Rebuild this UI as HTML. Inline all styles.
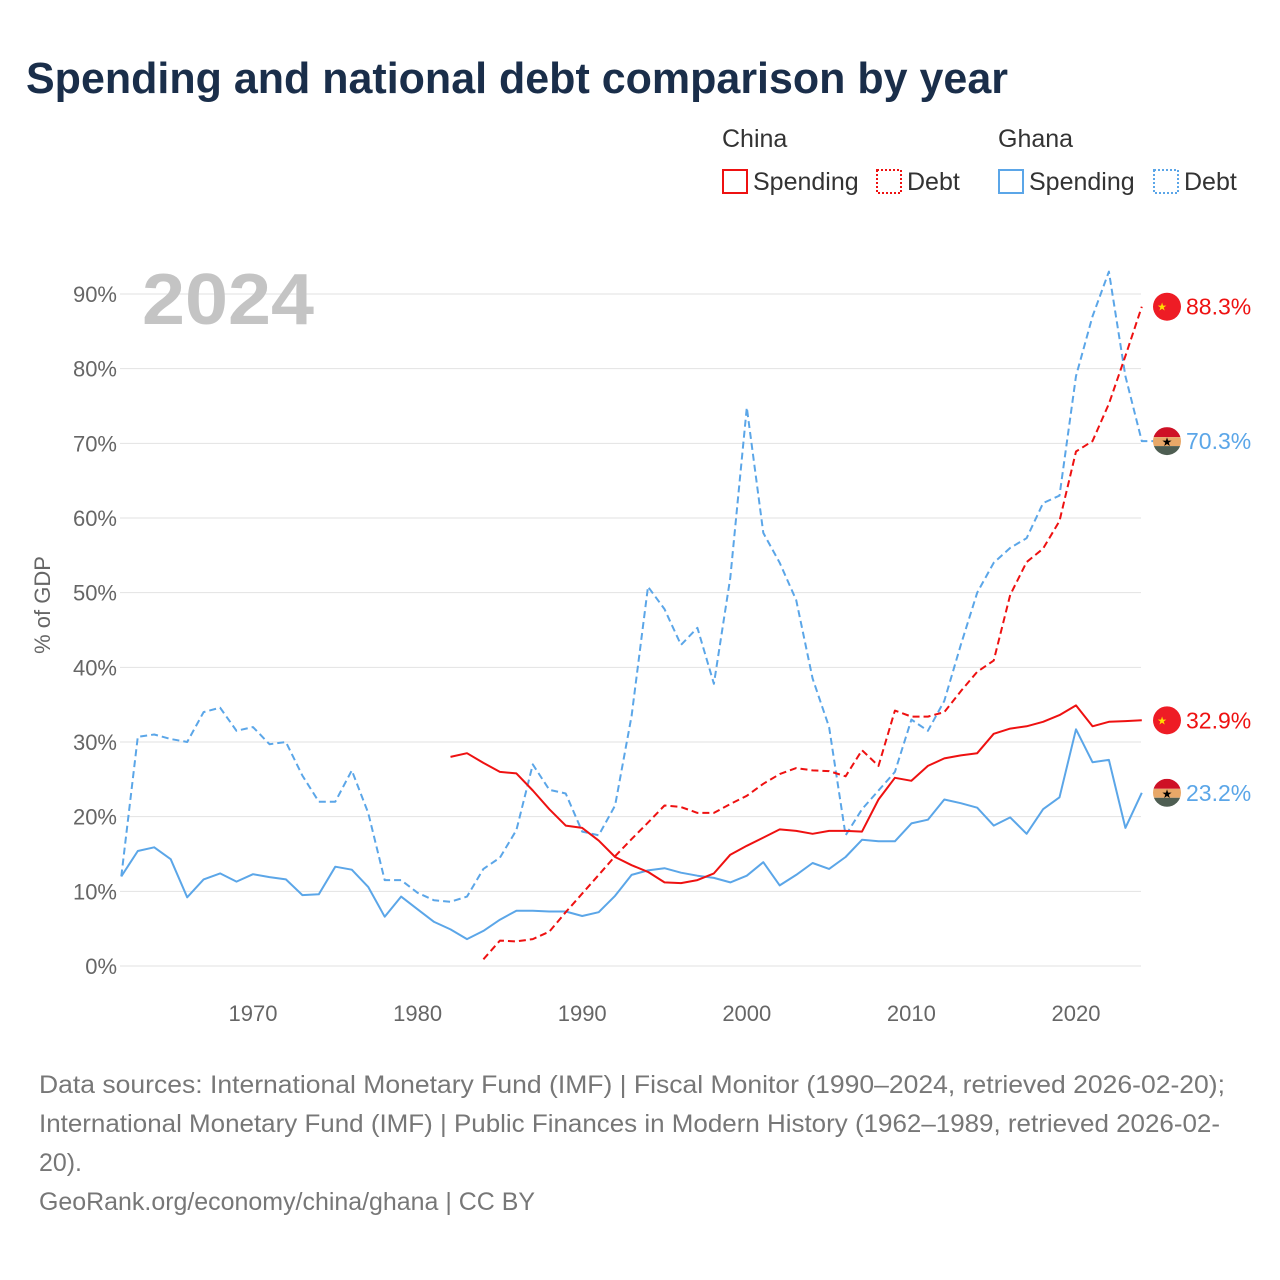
<!DOCTYPE html>
<html><head><meta charset="utf-8"><style>
body{margin:0;background:#fff;font-family:"Liberation Sans",sans-serif;}
#wrap{position:relative;width:1280px;height:1280px;overflow:hidden}
</style></head><body>
<div id="wrap">
<svg id="chart" width="1280" height="1280"></svg>
</div>
<script>
const years = [];
for (let y = 1962; y <= 2024; y++) years.push(y);
const ghanaDebt = [12,30.7,31,30.4,30,34,34.6,31.5,32,29.7,30,25.5,22,22,26.2,20.5,11.5,11.5,9.8,8.8,8.6,9.3,13,14.5,18.2,27,23.6,23.1,18,17.5,21.5,33.5,50.8,47.8,43,45.3,37.8,52,74.8,58,54,49,38.5,32,17.5,21,23.5,26,33,31.5,35.5,43,50,54,56,57.3,62,63,79,87,93,79,70.3,70.3];
const ghanaSpend = [12,15.4,15.9,14.3,9.2,11.6,12.4,11.3,12.3,11.9,11.6,9.5,9.6,13.3,12.9,10.6,6.6,9.3,7.6,5.9,4.9,3.6,4.7,6.2,7.4,7.4,7.3,7.3,6.7,7.2,9.4,12.2,12.8,13.1,12.5,12.1,11.8,11.2,12.1,13.9,10.8,12.2,13.8,13,14.6,16.9,16.7,16.7,19.1,19.6,22.3,21.8,21.2,18.8,19.9,17.7,21,22.6,31.7,27.3,27.6,18.5,23.2];
const chinaSpendStart = 1982;
const chinaSpend = [28,28.5,27.2,26,25.8,23.5,21,18.8,18.5,16.8,14.6,13.5,12.6,11.2,11.1,11.5,12.4,14.9,16.1,17.2,18.3,18.1,17.7,18.1,18.1,18,22.3,25.2,24.8,26.8,27.8,28.2,28.5,31.1,31.8,32.1,32.7,33.6,34.9,32.1,32.7,32.8,32.9];
const chinaDebtStart = 1984;
const chinaDebt = [0.9,3.4,3.3,3.6,4.6,7.2,9.7,12.2,14.7,17,19.2,21.5,21.3,20.5,20.5,21.7,22.8,24.4,25.7,26.5,26.2,26.1,25.4,28.9,26.8,34.2,33.4,33.4,34,36.8,39.4,40.9,49.7,54.1,55.9,59.6,68.9,70.3,75.3,81.7,88.3];
const yTicks = [0,10,20,30,40,50,60,70,80,90];
const xTicks = [1970,1980,1990,2000,2010,2020];

const RED="#ee1111", BLUE="#5ba6e8";
const X = y => 253 + (y - 1970) * (1076 - 253) / 50;
const Y = v => 966 - v * (966 - 294) / 90;
const svg = document.getElementById('chart');
const NS = "http://www.w3.org/2000/svg";
function mk(tag, attrs, txt){const e=document.createElementNS(NS,tag);for(const k in attrs)e.setAttribute(k,attrs[k]);if(txt!==undefined)e.textContent=txt;svg.appendChild(e);return e;}

let t;
t=mk('text',{x:26,y:93,'font-size':44,'font-weight':'bold',fill:'#1a2e4a',textLength:982,lengthAdjust:'spacingAndGlyphs'},'Spending and national debt comparison by year');



const leg=[[722,'China',RED,'Spending','Debt',876],[998,'Ghana',BLUE,'Spending','Debt',1153]];
leg.forEach(l=>{
  t=mk('text',{x:l[0],y:147,'font-size':25,fill:'#333'},l[1]);
  
  
  let r=mk('rect',{x:l[0]+1,y:170,width:24,height:23,fill:'none',stroke:l[2],'stroke-width':2});
  
  
  t=mk('text',{x:l[0]+31,y:190,'font-size':25,fill:'#333'},l[3]);
  
  
  r=mk('rect',{x:l[5]+1,y:170,width:24,height:23,fill:'none',stroke:l[2],'stroke-width':2,'stroke-dasharray':'2,2'});
  
  
  t=mk('text',{x:l[5]+31,y:190,'font-size':25,fill:'#333'},l[4]);
  
  
});

yTicks.forEach(v=>{
  const g=mk('line',{x1:120,x2:1141,y1:Y(v),y2:Y(v),stroke:'#e2e2e2','stroke-width':1});
  
  
  t=mk('text',{x:117,y:Y(v)+8,'font-size':22,fill:'#666','text-anchor':'end'},v+'%');
  
  
});
xTicks.forEach(y=>{
  t=mk('text',{x:X(y),y:1021,'font-size':22,fill:'#666','text-anchor':'middle'},String(y));
  
  
});
t=mk('text',{x:0,y:0,'font-size':22,fill:'#666','text-anchor':'middle',transform:'translate(50,605) rotate(-90)'},'% of GDP');


t=mk('text',{x:142,y:324,'font-size':72,'font-weight':'bold',fill:'#c4c4c4',textLength:172,lengthAdjust:'spacingAndGlyphs'},'2024');



function line(start, vals, color, dashed, name){
  const pts=vals.map((v,i)=>X(start+i).toFixed(1)+','+Y(v).toFixed(1)).join(' ');
  const p=mk('polyline',{points:pts,fill:'none',stroke:color,'stroke-width':2,'stroke-linejoin':'round'});
  if(dashed)p.setAttribute('stroke-dasharray','7,4');
  
  
}
line(1962, ghanaDebt, BLUE, true, 'ghana-debt-line');
line(1962, ghanaSpend, BLUE, false, 'ghana-spending-line');
line(chinaDebtStart, chinaDebt, RED, true, 'china-debt-line');
line(chinaSpendStart, chinaSpend, RED, false, 'china-spending-line');

function endLabel(v, country, color, name){
  const cy=Y(v), cx=1167;
  if(country==='china'){
    const c=mk('circle',{cx:cx,cy:cy,r:14,fill:'#ee1c25'});
    
    
    const s=mk('text',{x:cx-5,y:cy+4,'font-size':11,fill:'#ffde00','text-anchor':'middle'},'★');
    
    
  } else {
    const g=document.createElementNS(NS,'g');
    
    
    svg.appendChild(g);
    const cl='cl'+Math.round(v);
    g.innerHTML=`<clipPath id="${cl}"><circle cx="${cx}" cy="${cy}" r="14"/></clipPath><g clip-path="url(#${cl})"><rect x="${cx-14}" y="${cy-14}" width="28" height="10" fill="#ce1126"/><rect x="${cx-14}" y="${cy-4}" width="28" height="9" fill="#e8a868"/><rect x="${cx-14}" y="${cy+5}" width="28" height="10" fill="#4e5e52"/></g><text x="${cx}" y="${cy+5}" font-size="12" text-anchor="middle" fill="#000">★</text>`;
  }
  t=mk('text',{x:1186,y:cy+8,'font-size':23,fill:color},v.toFixed(1)+'%');
  
  
}
endLabel(chinaDebt[chinaDebt.length-1],'china',RED,'china-debt-end');
endLabel(ghanaDebt[ghanaDebt.length-1],'ghana',BLUE,'ghana-debt-end');
endLabel(chinaSpend[chinaSpend.length-1],'china',RED,'china-spending-end');
endLabel(ghanaSpend[ghanaSpend.length-1],'ghana',BLUE,'ghana-spending-end');

const foot=['Data sources: International Monetary Fund (IMF) | Fiscal Monitor (1990–2024, retrieved 2026-02-20);','International Monetary Fund (IMF) | Public Finances in Modern History (1962–1989, retrieved 2026-02-','20).','GeoRank.org/economy/china/ghana | CC BY'];
const footLen=[1186,1181,43,496];
foot.forEach((s,i)=>{
  t=mk('text',{x:39,y:1093+i*39,'font-size':25,fill:'#777',textLength:footLen[i],lengthAdjust:'spacingAndGlyphs'},s);
  
  
});
</script>
</body></html>
